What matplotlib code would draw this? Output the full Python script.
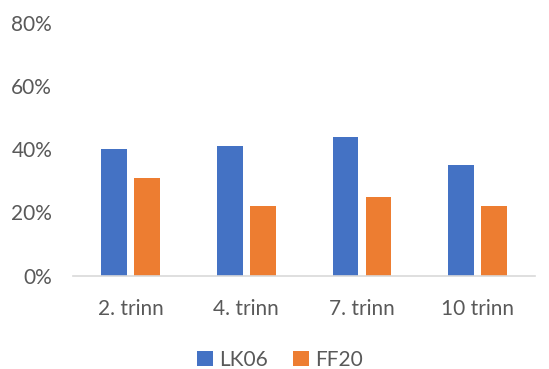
import numpy as np
import matplotlib.pyplot as plt
from matplotlib.ticker import PercentFormatter

categories = ['2. trinn', '4. trinn', '7. trinn', '10 trinn']
lk06 = [0.40, 0.41, 0.44, 0.35]
ff20 = [0.31, 0.22, 0.25, 0.22]

plt.rcParams['font.family'] = ['Lato', 'DejaVu Sans']

fig = plt.figure(figsize=(5.49, 3.69), dpi=100)
ax = fig.add_axes([0.133, 0.253, 0.842, 0.685])

x = np.arange(len(categories))
w = 0.222
ax.bar(x - 0.143, lk06, w, color='#4472C4', label='LK06')
ax.bar(x + 0.143, ff20, w, color='#ED7D31', label='FF20')

ax.set_xlim(-0.5, len(categories) - 0.5)
ax.set_ylim(0, 0.8)
ax.set_yticks([0, 0.2, 0.4, 0.6, 0.8])
ax.yaxis.set_major_formatter(PercentFormatter(1.0, decimals=0))
ax.set_xticks(x)
ax.set_xticklabels(categories)

for s in ['top', 'right', 'left']:
    ax.spines[s].set_visible(False)
ax.spines['bottom'].set_color('#D9D9D9')
ax.spines['bottom'].set_linewidth(1.2)
ax.tick_params(axis='both', length=0, labelsize=15, colors='#595959')
ax.tick_params(axis='x', pad=17)
ax.tick_params(axis='y', pad=15)

fig.legend(loc='center', bbox_to_anchor=(0.51, 0.025), ncol=2, frameon=False,
           fontsize=15, labelcolor='#595959', handlelength=0.75, handleheight=0.75,
           handletextpad=0.3, columnspacing=1.2)

fig.savefig('out.png', dpi=100)
